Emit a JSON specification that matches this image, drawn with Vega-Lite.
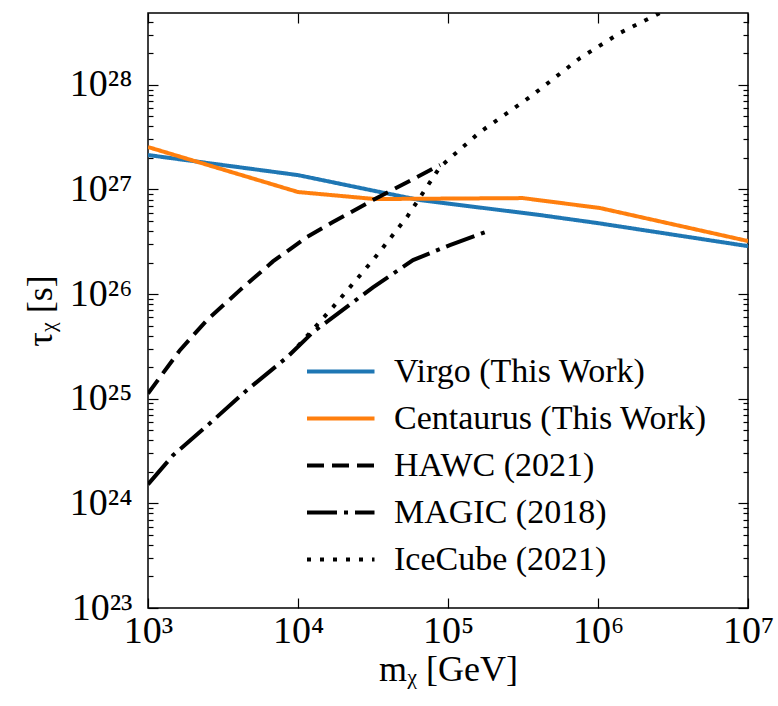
{
  "$schema": "https://vega.github.io/schema/vega-lite/v6.json",
  "width": 600,
  "height": 595,
  "autosize": "none",
  "padding": {"left": 148, "top": 13, "right": 30, "bottom": 98},
  "background": "white",
  "config": {
    "font": "Liberation Serif",
    "view": {"stroke": "black", "strokeWidth": 1.5},
    "axis": {"grid": false, "domain": false, "tickColor": "black", "tickWidth": 1.2, "labelColor": "black", "titleColor": "black", "labelFont": "Liberation Serif", "titleFont": "Liberation Serif", "labelFontSize": 38, "titleFontSize": 36, "titleFontWeight": "normal", "labelFlush": false},
    "legend": {"labelFont": "Liberation Serif", "labelFontSize": 34, "labelColor": "black", "labelLimit": 500}
  },
  "data": {"values": [
    {"series": "Virgo (This Work)", "m": 1000, "tau": 2.13e27},
    {"series": "Virgo (This Work)", "m": 10000, "tau": 1.37e27},
    {"series": "Virgo (This Work)", "m": 35200, "tau": 9.44e26},
    {"series": "Virgo (This Work)", "m": 65000, "tau": 7.91e26},
    {"series": "Virgo (This Work)", "m": 410000, "tau": 5.69e26},
    {"series": "Virgo (This Work)", "m": 1000000, "tau": 4.76e26},
    {"series": "Virgo (This Work)", "m": 10000000, "tau": 2.87e26},
    {"series": "Centaurus (This Work)", "m": 1000, "tau": 2.54e27},
    {"series": "Centaurus (This Work)", "m": 10000, "tau": 9.44e26},
    {"series": "Centaurus (This Work)", "m": 32600, "tau": 8.09e26},
    {"series": "Centaurus (This Work)", "m": 316000, "tau": 8.26e26},
    {"series": "Centaurus (This Work)", "m": 1030000, "tau": 6.64e26},
    {"series": "Centaurus (This Work)", "m": 10000000, "tau": 3.21e26},
    {"series": "HAWC (2021)", "m": 1000, "tau": 1.12e25},
    {"series": "HAWC (2021)", "m": 1633, "tau": 2.91e25},
    {"series": "HAWC (2021)", "m": 2472, "tau": 5.64e25},
    {"series": "HAWC (2021)", "m": 4102, "tau": 1.09e26},
    {"series": "HAWC (2021)", "m": 6808, "tau": 2.05e26},
    {"series": "HAWC (2021)", "m": 11480, "tau": 3.51e26},
    {"series": "HAWC (2021)", "m": 17100, "tau": 4.88e26},
    {"series": "HAWC (2021)", "m": 31620, "tau": 7.91e26},
    {"series": "HAWC (2021)", "m": 88500, "tau": 1.71e27},
    {"series": "MAGIC (2018)", "m": 1000, "tau": 1.52e24},
    {"series": "MAGIC (2018)", "m": 1469, "tau": 2.88e24},
    {"series": "MAGIC (2018)", "m": 2588, "tau": 5.83e24},
    {"series": "MAGIC (2018)", "m": 4571, "tau": 1.21e25},
    {"series": "MAGIC (2018)", "m": 8453, "tau": 2.49e25},
    {"series": "MAGIC (2018)", "m": 12590, "tau": 4.33e25},
    {"series": "MAGIC (2018)", "m": 31620, "tau": 1.16e26},
    {"series": "MAGIC (2018)", "m": 58480, "tau": 2.11e26},
    {"series": "MAGIC (2018)", "m": 103000, "tau": 2.94e26},
    {"series": "MAGIC (2018)", "m": 184900, "tau": 4.0e26},
    {"series": "IceCube (2021)", "m": 10000, "tau": 3.18e25},
    {"series": "IceCube (2021)", "m": 17100, "tau": 7.5e25},
    {"series": "IceCube (2021)", "m": 31620, "tau": 2.11e26},
    {"series": "IceCube (2021)", "m": 53330, "tau": 5.45e26},
    {"series": "IceCube (2021)", "m": 88500, "tau": 1.64e27},
    {"series": "IceCube (2021)", "m": 163300, "tau": 3.53e27},
    {"series": "IceCube (2021)", "m": 352400, "tau": 7.64e27},
    {"series": "IceCube (2021)", "m": 758600, "tau": 1.80e28},
    {"series": "IceCube (2021)", "m": 1403000, "tau": 3.13e28},
    {"series": "IceCube (2021)", "m": 2512000, "tau": 4.75e28},
    {"series": "IceCube (2021)", "m": 2951000, "tau": 5.25e28}
  ]},
  "resolve": {"axis": {"x": "independent", "y": "independent"}},
  "layer": [
    {
      "mark": {"type": "line", "strokeWidth": 4, "clip": true},
      "encoding": {
        "x": {"field": "m", "type": "quantitative",
          "scale": {"type": "log", "domain": [1000, 10000000], "nice": false},
          "axis": {"orient": "bottom", "values": [1000, 10000, 100000, 1000000, 10000000], "tickSize": -10, "labelPadding": 14, "title": "mᵪ [GeV]", "titlePadding": 2,
            "labelExpr": "'10' + (round(log(datum.value)/LN10) >= 10 ? substring('⁰¹²³⁴⁵⁶⁷⁸⁹', floor(round(log(datum.value)/LN10)/10), floor(round(log(datum.value)/LN10)/10) + 1) : '') + substring('⁰¹²³⁴⁵⁶⁷⁸⁹', round(log(datum.value)/LN10) % 10, round(log(datum.value)/LN10) % 10 + 1)"}},
        "y": {"field": "tau", "type": "quantitative",
          "scale": {"type": "log", "domain": [1e23, 4.85e28], "nice": false},
          "axis": {"orient": "left", "values": [1e23, 1e24, 1e25, 1e26, 1e27, 1e28], "tickSize": -10, "labelPadding": 26, "title": "τᵪ [s]", "titlePadding": 10,
            "labelExpr": "'10' + (round(log(datum.value)/LN10) >= 10 ? substring('⁰¹²³⁴⁵⁶⁷⁸⁹', floor(round(log(datum.value)/LN10)/10), floor(round(log(datum.value)/LN10)/10) + 1) : '') + substring('⁰¹²³⁴⁵⁶⁷⁸⁹', round(log(datum.value)/LN10) % 10, round(log(datum.value)/LN10) % 10 + 1)"}},
        "color": {"field": "series", "type": "nominal",
          "scale": {"domain": ["Virgo (This Work)", "Centaurus (This Work)", "HAWC (2021)", "MAGIC (2018)", "IceCube (2021)"], "range": ["#1f77b4", "#ff7f0e", "black", "black", "black"]},
          "legend": {"orient": "none", "legendX": 157, "legendY": 334, "title": null, "padding": 0, "symbolType": "M-1,0L2,0", "symbolSize": 2025, "symbolStrokeWidth": 4, "labelFont": "Liberation Serif", "labelFontSize": 34, "labelColor": "black", "labelOffset": 40, "rowPadding": 5, "labelLimit": 500,
            "encode": {"labels": {"update": {"font": {"value": "Liberation Serif"}, "fontSize": {"value": 34}}}}}},
        "strokeDash": {"field": "series", "type": "nominal",
          "scale": {"domain": ["Virgo (This Work)", "Centaurus (This Work)", "HAWC (2021)", "MAGIC (2018)", "IceCube (2021)"], "range": [[1, 0], [1, 0], [17, 8], [30, 7, 4, 7], [4, 9]]},
          "legend": {"orient": "none", "legendX": 157, "legendY": 334, "title": null, "padding": 0, "symbolType": "M-1,0L2,0", "symbolSize": 2025, "symbolStrokeWidth": 4, "labelFont": "Liberation Serif", "labelFontSize": 34, "labelColor": "black", "labelOffset": 40, "rowPadding": 5, "labelLimit": 500,
            "encode": {"labels": {"update": {"font": {"value": "Liberation Serif"}, "fontSize": {"value": 34}}}}}}
      }
    },
    {
      "mark": {"type": "point", "opacity": 0},
      "encoding": {
        "x": {"field": "m", "type": "quantitative", "scale": {"type": "log", "domain": [1000, 10000000], "nice": false},
          "axis": {"orient": "top", "values": [1000, 10000, 100000, 1000000, 10000000], "tickSize": -10, "labels": false, "title": null}},
        "y": {"field": "tau", "type": "quantitative", "scale": {"type": "log", "domain": [1e23, 4.85e28], "nice": false},
          "axis": {"orient": "right", "values": [1e23, 1e24, 1e25, 1e26, 1e27, 1e28], "tickSize": -10, "labels": false, "title": null}}
      }
    },
    {
      "mark": {"type": "point", "opacity": 0},
      "encoding": {
        "x": {"field": "m", "type": "quantitative", "scale": {"type": "log", "domain": [1000, 10000000], "nice": false}, "axis": null},
        "y": {"field": "tau", "type": "quantitative", "scale": {"type": "log", "domain": [1e23, 4.85e28], "nice": false},
          "axis": {"orient": "left", "values": [2e23, 3e23, 4e23, 5e23, 6e23, 7e23, 8e23, 9e23, 2e24, 3e24, 4e24, 5e24, 6e24, 7e24, 8e24, 9e24, 2e25, 3e25, 4e25, 5e25, 6e25, 7e25, 8e25, 9e25, 2e26, 3e26, 4e26, 5e26, 6e26, 7e26, 8e26, 9e26, 2e27, 3e27, 4e27, 5e27, 6e27, 7e27, 8e27, 9e27, 2e28, 3e28, 4e28], "tickSize": -5, "labels": false, "title": null}}
      }
    },
    {
      "mark": {"type": "point", "opacity": 0},
      "encoding": {
        "x": {"field": "m", "type": "quantitative", "scale": {"type": "log", "domain": [1000, 10000000], "nice": false}, "axis": null},
        "y": {"field": "tau", "type": "quantitative", "scale": {"type": "log", "domain": [1e23, 4.85e28], "nice": false},
          "axis": {"orient": "right", "values": [2e23, 3e23, 4e23, 5e23, 6e23, 7e23, 8e23, 9e23, 2e24, 3e24, 4e24, 5e24, 6e24, 7e24, 8e24, 9e24, 2e25, 3e25, 4e25, 5e25, 6e25, 7e25, 8e25, 9e25, 2e26, 3e26, 4e26, 5e26, 6e26, 7e26, 8e26, 9e26, 2e27, 3e27, 4e27, 5e27, 6e27, 7e27, 8e27, 9e27, 2e28, 3e28, 4e28], "tickSize": -5, "labels": false, "title": null}}
      }
    }
  ]
}
